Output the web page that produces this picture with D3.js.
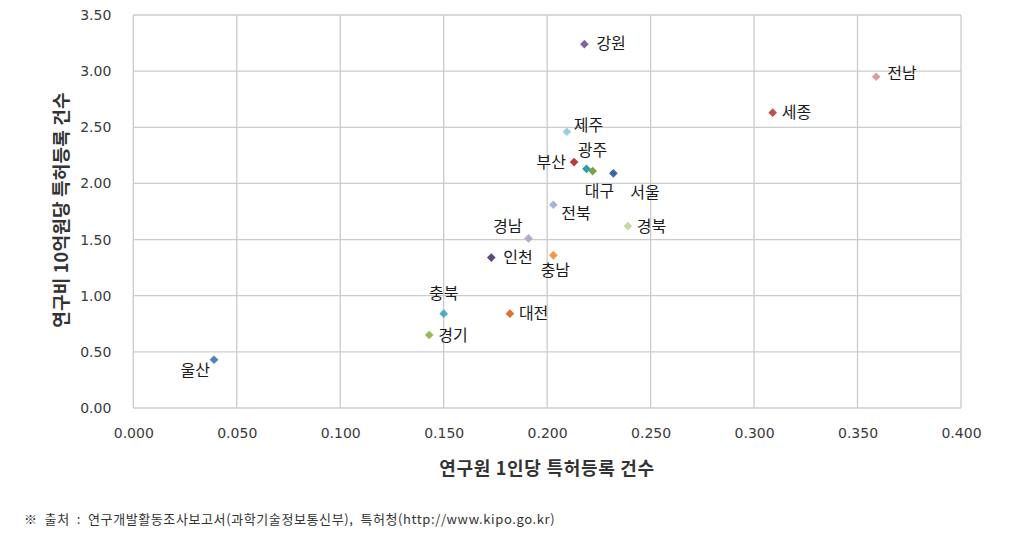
<!DOCTYPE html>
<html><head><meta charset="utf-8">
<script src="https://cdn.jsdelivr.net/npm/d3@7"></script>
<style>
body{margin:0;background:#fff;}
svg{display:block;}
</style></head><body>
<svg id="chart" width="1014" height="550"></svg>
<script>
const regions = ["서울","부산","대구","인천","광주","대전","울산","세종","경기","강원","충북","충남","전북","전남","경북","경남","제주"];
const perResearcher = [0.232,0.213,0.222,0.173,0.219,0.182,0.039,0.309,0.143,0.218,0.150,0.203,0.203,0.359,0.239,0.191,0.2095];
const perBillion = [2.09,2.19,2.11,1.34,2.13,0.84,0.43,2.63,0.65,3.24,0.84,1.36,1.81,2.95,1.62,1.51,2.46];
const colors = ["#3D64A8","#B83C3A","#7FA043","#5E4A80","#2F9AB0","#D9752F","#4F81BD","#C0504D","#9BBB59","#8064A2","#4BACC6","#F79646","#A5B5DA","#DB9F9E","#C5D9A0","#B8A9CC","#9ACFE0"];
const xTicks = [0,0.05,0.1,0.15,0.2,0.25,0.3,0.35,0.4];
const yTicks = [0,0.5,1,1.5,2,2.5,3,3.5];
const xTitle = "연구원 1인당 특허등록 건수";
const yTitle = "연구비 10억원당 특허등록 건수";
const footer = "※  출처  :  연구개발활동조사보고서(과학기술정보통신부),  특허청(http://www.kipo.go.kr)";
// label placement: [dx, dy, anchor]
const labelPos = {
 "서울":[17,25,"start"],"부산":[-8,6,"end"],"대구":[-8,26,"start"],"인천":[12,5,"start"],
 "광주":[6,-13,"middle"],"대전":[9,5,"start"],"울산":[-4,16,"end"],"세종":[9,5,"start"],
 "경기":[9,6,"start"],"강원":[12,5,"start"],"충북":[0,-15,"middle"],"충남":[2,21,"middle"],
 "전북":[8,14,"start"],"전남":[11,2,"start"],"경북":[9,6,"start"],"경남":[-6,-6,"end"],"제주":[7,-1,"start"]
};

const svg = d3.select("#chart");
const pL=133.3, pR=961, pT=15, pB=408;
const x = d3.scaleLinear().domain([0,0.4]).range([pL,pR]);
const y = d3.scaleLinear().domain([0,3.5]).range([pB,pT]);

// grid
svg.append("g").selectAll("line").data(xTicks).join("line")
  .attr("x1",d=>x(d)).attr("x2",d=>x(d)).attr("y1",pT).attr("y2",pB)
  .attr("stroke","#cbcbcb").attr("stroke-width",1.3);
svg.append("g").selectAll("line").data(yTicks).join("line")
  .attr("x1",pL).attr("x2",pR).attr("y1",d=>y(d)).attr("y2",d=>y(d))
  .attr("stroke","#cbcbcb").attr("stroke-width",1.3);

// axes
const xAxis = svg.append("g").attr("transform",`translate(0,${pB})`)
  .call(d3.axisBottom(x).tickValues(xTicks).tickFormat(d3.format(".3f")).tickSize(0).tickPadding(20));
const yAxis = svg.append("g").attr("transform",`translate(${pL},0)`)
  .call(d3.axisLeft(y).tickValues(yTicks).tickFormat(d3.format(".2f")).tickSize(0).tickPadding(22));
[xAxis,yAxis].forEach(a=>{
  a.select(".domain").remove();
  a.selectAll("text").attr("font-family","DejaVu Sans, sans-serif").attr("font-size","14px").attr("fill","#3a3a3a");
});

// points
const data = regions.map((r,i)=>({r,x:perResearcher[i],y:perBillion[i],c:colors[i]}));
svg.append("g").selectAll("path").data(data).join("path")
  .attr("d",d3.symbol().type(d3.symbolDiamond2).size(48))
  .attr("transform",d=>`translate(${x(d.x)},${y(d.y)})`)
  .attr("fill",d=>d.c);

svg.append("g").selectAll("text").data(data).join("text")
  .attr("x",d=>x(d.x)+labelPos[d.r][0])
  .attr("y",d=>y(d.y)+labelPos[d.r][1])
  .attr("text-anchor",d=>labelPos[d.r][2])
  .attr("font-family","'Noto Sans CJK KR', sans-serif").attr("font-size","16px").attr("fill","#1a1a1a")
  .text(d=>d.r);

// titles
svg.append("text").attr("x",547).attr("y",475).attr("text-anchor","middle")
  .attr("font-family","'Noto Sans CJK KR', sans-serif").attr("font-size","18px").attr("font-weight","bold").attr("fill","#333")
  .attr("letter-spacing","0.7")
  .text(xTitle);
svg.append("text").attr("transform","translate(68,210) rotate(-90)").attr("text-anchor","middle")
  .attr("font-family","'Noto Sans CJK KR', sans-serif").attr("font-size","18px").attr("font-weight","bold").attr("fill","#333")
  .attr("letter-spacing","0.2")
  .text(yTitle);

svg.append("text").attr("x",24).attr("y",524)
  .attr("font-family","'Noto Sans CJK KR', sans-serif").attr("font-size","13px").attr("fill","#333")
  .attr("letter-spacing","0.6").style("white-space","pre")
  .text(footer);
</script>
</body></html>
